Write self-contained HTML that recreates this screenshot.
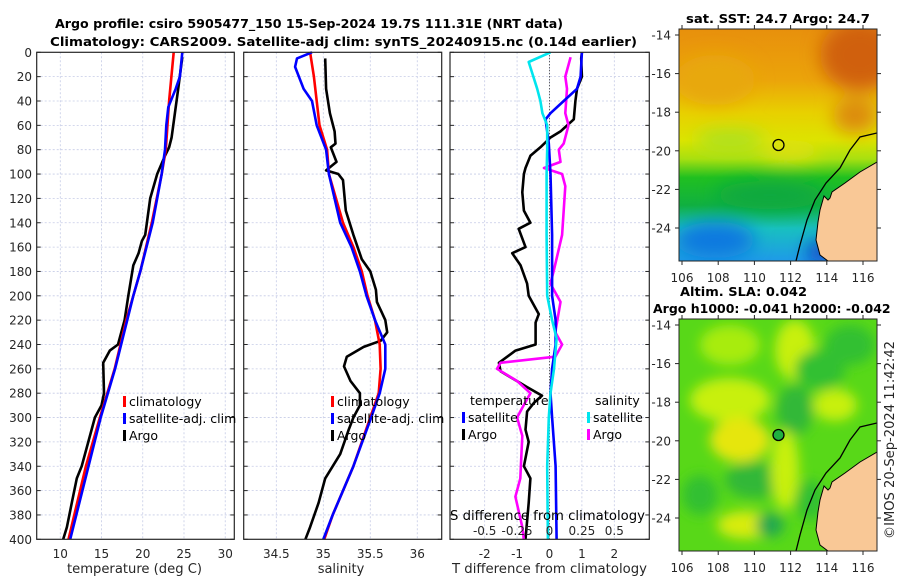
<!DOCTYPE html>
<html><head><meta charset="utf-8"><style>
html,body{margin:0;padding:0;background:#fff;}
svg{display:block;font-family:"DejaVu Sans","Liberation Sans",sans-serif;}
</style></head><body>
<svg id="fig" width="900" height="580" viewBox="0 0 900 580" xmlns="http://www.w3.org/2000/svg">
<defs>
<filter id="bl" x="-50%" y="-50%" width="200%" height="200%"><feGaussianBlur stdDeviation="9"/></filter>
<filter id="bl2" x="-50%" y="-50%" width="200%" height="200%"><feGaussianBlur stdDeviation="6"/></filter>
<clipPath id="m1c"><rect x="679" y="29" width="198" height="232"/></clipPath>
<clipPath id="m2c"><rect x="679" y="319" width="198" height="232"/></clipPath>
<linearGradient id="sstg" x1="0" y1="0" x2="0" y2="1">
<stop offset="0" stop-color="#e8900c"/><stop offset="0.22" stop-color="#eba40a"/><stop offset="0.36" stop-color="#e8d000"/><stop offset="0.48" stop-color="#dce400"/><stop offset="0.56" stop-color="#a8e010"/><stop offset="0.64" stop-color="#20c020"/><stop offset="0.76" stop-color="#10b040"/><stop offset="0.86" stop-color="#18c0c0"/><stop offset="1" stop-color="#1e9ae8"/>
</linearGradient>
</defs>
<g id="titles">
<text x="55" y="28" font-size="12.5" font-weight="bold" textLength="508" lengthAdjust="spacingAndGlyphs">Argo profile: csiro 5905477_150 15-Sep-2024 19.7S 111.31E (NRT data)</text>
<text x="50" y="46" font-size="12.5" font-weight="bold" textLength="587" lengthAdjust="spacingAndGlyphs">Climatology: CARS2009. Satellite-adj clim: synTS_20240915.nc (0.14d earlier)</text>
<text x="686" y="23" font-size="12.5" font-weight="bold" textLength="184" lengthAdjust="spacingAndGlyphs">sat. SST: 24.7 Argo: 24.7</text>
<text x="680" y="296" font-size="12.5" font-weight="bold" textLength="127" lengthAdjust="spacingAndGlyphs">Altim. SLA: 0.042</text>
<text x="653" y="313" font-size="12.5" font-weight="bold">Argo h1000: -0.041 h2000: -0.042</text>
<text transform="translate(894,539) rotate(-90)" font-size="13" fill="#262626" textLength="198" lengthAdjust="spacingAndGlyphs">©IMOS 20-Sep-2024 11:42:42</text>
</g>
<g id="panels"></g>
<g id="maps">
<g clip-path="url(#m1c)">
<rect x="679" y="29" width="198" height="232" fill="url(#sstg)"/>
<g filter="url(#bl)">
<ellipse cx="860" cy="55" rx="40" ry="35" fill="#d0600a"/>
<ellipse cx="855" cy="115" rx="22" ry="18" fill="#dc8a10"/>
<ellipse cx="715" cy="80" rx="40" ry="25" fill="#e8a810"/>
<ellipse cx="730" cy="140" rx="35" ry="10" fill="#a8e020"/>
<ellipse cx="790" cy="150" rx="30" ry="10" fill="#e0e010"/>
<ellipse cx="770" cy="195" rx="55" ry="14" fill="#10a840"/>
<ellipse cx="715" cy="240" rx="40" ry="18" fill="#1078e0"/>
<ellipse cx="820" cy="252" rx="12" ry="10" fill="#0a30c0"/>
</g>
<polygon points="877,162 860,172 845,183 832,192 830,198 828,200 824,196 820,210 818,222 816,240 820,255 828,261 877,261" fill="#f9c896" stroke="#000" stroke-width="1"/>
<polyline points="877,133 860,137 850,150 840,168 826,183 815,200 807,220 800,245 796,261" fill="none" stroke="#000" stroke-width="1.3"/>
<circle cx="778.5" cy="145" r="5.5" fill="none" stroke="#000" stroke-width="1.3"/>
</g>
<g clip-path="url(#m2c)">
<rect x="679" y="319" width="198" height="232" fill="#58d818"/>
<g filter="url(#bl2)">
<ellipse cx="730" cy="345" rx="30" ry="20" fill="#a8ec10"/>
<ellipse cx="795" cy="350" rx="20" ry="30" fill="#c8f010"/>
<ellipse cx="850" cy="345" rx="25" ry="20" fill="#30c030"/>
<ellipse cx="820" cy="370" rx="25" ry="20" fill="#30c030"/>
<ellipse cx="730" cy="400" rx="40" ry="22" fill="#c8f010"/>
<ellipse cx="740" cy="440" rx="30" ry="22" fill="#e6e610"/>
<ellipse cx="795" cy="410" rx="18" ry="25" fill="#30b838"/>
<ellipse cx="835" cy="405" rx="22" ry="16" fill="#c8f010"/>
<ellipse cx="755" cy="480" rx="30" ry="18" fill="#30b838"/>
<ellipse cx="785" cy="470" rx="14" ry="40" fill="#c8f010"/>
<ellipse cx="700" cy="495" rx="18" ry="20" fill="#30c030"/>
<ellipse cx="745" cy="525" rx="28" ry="14" fill="#d8ec10"/>
<ellipse cx="770" cy="525" rx="14" ry="12" fill="#20a850"/>
<ellipse cx="810" cy="500" rx="15" ry="20" fill="#30c030"/>
</g>
<polygon points="877,452 860,462 845,473 832,482 830,488 828,490 824,486 820,500 818,512 816,530 820,545 828,551 877,551" fill="#f9c896" stroke="#000" stroke-width="1"/>
<polyline points="877,423 860,427 850,440 840,458 826,473 815,490 807,510 800,535 796,551" fill="none" stroke="#000" stroke-width="1.3"/>
<circle cx="778.5" cy="435" r="5.5" fill="#20b040" stroke="#000" stroke-width="1.3"/>
</g>
<g id="mapaxes"></g>
</g>
</svg>
<script>
// ---- data ----
const tClimDepth=[0,40,80,100,140,180,200,220,260,300,340,380,400];
const tClimVal=[23.75,23.2,22.8,22.3,21.1,19.7,18.85,18.0,16.6,14.8,13.1,11.7,11.0];
const tSatDepth=[0,20,30,45,60,80,100,140,180,200,260,300,400];
const tSatVal=[24.8,24.5,24.0,23.1,22.85,22.7,22.3,21.2,19.7,18.85,16.65,14.9,11.2];
const tArgoDepth=[4,30,50,70,78,85,100,120,140,150,155,165,175,200,220,240,245,255,280,290,300,320,340,350,370,390,400];
const tArgoVal=[24.8,24.3,23.9,23.5,23.2,22.7,21.75,20.9,20.5,20.3,19.9,19.5,18.85,18.25,17.8,17.0,16.0,15.2,15.3,15.0,14.2,13.4,12.6,12.0,11.4,10.8,10.35];
const sClimDepth=[0,20,40,60,80,100,140,160,180,200,220,240,260,280,300,340,380,400];
const sClimVal=[34.86,34.9,34.93,34.96,35.04,35.06,35.21,35.32,35.41,35.47,35.55,35.6,35.61,35.59,35.5,35.32,35.1,35.01];
const sSatDepth=[0,5,12,30,40,60,80,100,140,160,180,200,220,240,260,280,300,340,380,400];
const sSatVal=[34.88,34.72,34.70,34.79,34.88,34.93,35.03,35.06,35.18,35.30,35.39,35.46,35.55,35.66,35.66,35.6,35.51,35.32,35.1,35.0];
const sArgoDepth=[5,30,50,65,75,78,90,97,100,105,130,150,170,180,195,205,220,230,237,242,250,258,270,280,290,300,310,330,350,370,390,400];
const sArgoVal=[35.02,35.03,35.07,35.12,35.13,35.08,35.14,35.03,35.16,35.21,35.24,35.32,35.41,35.5,35.56,35.57,35.66,35.68,35.61,35.43,35.25,35.22,35.29,35.39,35.39,35.32,35.27,35.18,35.02,34.95,34.86,34.81];
const dTSatDepth=[0,20,30,40,50,55,75,100,150,200,220,240,260,280,300,340,400];
const dTSatVal=[1.0,0.96,0.85,0.44,0.03,-0.12,-0.02,0.03,0.08,0.08,0.19,0.19,0.08,0.03,0.08,0.19,0.22];
const dSSatDepth=[0,8,30,40,50,60,80,100,150,200,220,235,260,280,300,340,400];
const dSSatVal=[0.008,-0.16,-0.095,-0.07,-0.055,-0.018,-0.018,-0.022,-0.022,-0.018,0.02,0.055,0.035,0.008,-0.005,-0.018,-0.012];
const dTArgoDepth=[0,5,20,30,40,55,65,70,78,85,95,100,115,130,140,145,160,165,175,190,200,215,222,240,245,255,262,275,282,288,295,310,320,340,350,370,400];
const dTArgoVal=[1.0,0.98,1.0,0.85,0.8,0.75,0.34,0.03,-0.28,-0.59,-0.74,-0.79,-0.84,-0.79,-0.59,-0.95,-0.74,-1.15,-0.89,-0.69,-0.64,-0.33,-0.43,-0.43,-1.05,-1.56,-1.51,-0.69,-0.23,-0.48,-0.69,-0.74,-0.64,-0.79,-0.59,-0.64,-0.74];
const dSArgoDepth=[4,20,30,50,60,75,80,90,95,100,110,150,180,190,205,230,240,250,255,260,270,280,290,300,315,350,365,390,400];
const dSArgoVal=[0.163,0.122,0.135,0.122,0.147,0.11,0.072,0.085,-0.042,0.097,0.122,0.097,0.032,0.007,0.085,0.045,0.097,0.045,-0.378,-0.405,-0.25,-0.147,-0.2,-0.25,-0.21,-0.225,-0.263,-0.21,-0.198];
const depthTicks=[0,20,40,60,80,100,120,140,160,180,200,220,240,260,280,300,320,340,360,380,400];
const tTicks=[10,15,20,25,30];
const sTicks=[34.5,35,35.5,36];
const dTTicks=[-2,-1,0,1,2];
const dSTicks=[-0.5,-0.25,0,0.25,0.5];
const dSTickLabels=["-0.5","-0.25","0","0.25","0.5"];
const lonTicks=[106,108,110,112,114,116];
const latTicks=[-14,-16,-18,-20,-22,-24];

const NS="http://www.w3.org/2000/svg";
const panels=document.getElementById('panels');
function mk(tag,attrs,parent){const e=document.createElementNS(NS,tag);for(const k in attrs)e.setAttribute(k,attrs[k]);(parent||panels).appendChild(e);return e;}
const Y0=52.3,Y1=539.3;
function yD(d){return Y0+(d/400)*(Y1-Y0);}
function lin(d0,d1,r0,r1){return v=>r0+(v-d0)/(d1-d0)*(r1-r0);}
const P1={x0:36.7,x1:234.3,sx:lin(7.14,31.1,36.7,234.3)};
const P2={x0:243.7,x1:441.7,sx:lin(34.153,36.26,243.7,441.7)};
const P3={x0:450,x1:649.3,sx:lin(-3.07,3.08,450,649.3)};
const sxS=v=>P3.sx(v*4);

function frame(P,xt,xl,name){
  const g=mk('g',{});
  
  
  xt.forEach(v=>{mk('line',{x1:P.sx(v),x2:P.sx(v),y1:Y0,y2:Y1,stroke:'#c5cbe6','stroke-width':0.8,'stroke-dasharray':'2,2'},g);});
  depthTicks.forEach(d=>{if(d>0&&d<400)mk('line',{x1:P.x0,x2:P.x1,y1:yD(d),y2:yD(d),stroke:'#c5cbe6','stroke-width':0.8,'stroke-dasharray':'2,2'},g);
    mk('line',{x1:P.x0,x2:P.x0+4,y1:yD(d),y2:yD(d),stroke:'#262626','stroke-width':1},g);
    mk('line',{x1:P.x1,x2:P.x1-4,y1:yD(d),y2:yD(d),stroke:'#262626','stroke-width':1},g);});
  return g;
}
function axisBox(P,g){mk('rect',{x:P.x0,y:Y0,width:P.x1-P.x0,height:Y1-Y0,fill:'none',stroke:'#262626','stroke-width':1.2},g);}
function line(depths,vals,sx,color,name,g,w){
  const pts=depths.map((d,i)=>sx(vals[i]).toFixed(1)+','+yD(d).toFixed(1)).join(' ');
  const e=mk('polyline',{points:pts,fill:'none',stroke:color,'stroke-width':w||2.6,'stroke-linejoin':'round'},g);
  
  
}
function xlabels(P,ticks,labels,y,g,sx){ticks.forEach((v,i)=>{const t=mk('text',{x:(sx||P.sx)(v),y:y,'font-size':12,'text-anchor':'middle',fill:'#262626'},g);t.textContent=labels?labels[i]:String(v);});}
function legend(x,y,items,g,name){
  const lg=mk('g',{},g);
  
  
  items.forEach((it,i)=>{const yy=y+i*17;
    mk('rect',{x:x,y:yy-10,width:3,height:11,fill:it[1]},lg);
    const t=mk('text',{x:x+6,y:yy,'font-size':12.5,fill:'#000'},lg);t.textContent=it[0];});
}
// panel 1
const g1=frame(P1,tTicks,null,'temperature-panel');
depthTicks.forEach(d=>{const t=mk('text',{x:32,y:yD(d)+4.5,'font-size':12,'text-anchor':'end',fill:'#262626'},g1);t.textContent=String(d);});
line(tArgoDepth,tArgoVal,P1.sx,'#000','temp-argo-line',g1);
line(tClimDepth,tClimVal,P1.sx,'#ff0000','temp-climatology-line',g1);
line(tSatDepth,tSatVal,P1.sx,'#0000ff','temp-satellite-line',g1);
axisBox(P1,g1);
xlabels(P1,tTicks,null,558,g1);
let t=mk('text',{x:67,y:573,'font-size':13,fill:'#262626',textLength:135,lengthAdjust:'spacingAndGlyphs'},g1);t.textContent='temperature (deg C)';

legend(123,406,[['climatology','#ff0000'],['satellite-adj. clim','#0000ff'],['Argo','#000']],g1,'temperature-legend');
// panel 2
const g2=frame(P2,sTicks,null,'salinity-panel');
line(sArgoDepth,sArgoVal,P2.sx,'#000','sal-argo-line',g2);
line(sClimDepth,sClimVal,P2.sx,'#ff0000','sal-climatology-line',g2);
line(sSatDepth,sSatVal,P2.sx,'#0000ff','sal-satellite-line',g2);
axisBox(P2,g2);
xlabels(P2,sTicks,["34.5","35","35.5","36"],558,g2);
t=mk('text',{x:341,y:573,'font-size':13,'text-anchor':'middle',fill:'#262626'},g2);t.textContent='salinity';

legend(331,406,[['climatology','#ff0000'],['satellite-adj. clim','#0000ff'],['Argo','#000']],g2,'salinity-legend');
// panel 3
const g3=frame(P3,dTTicks,null,'difference-panel');
mk('line',{x1:P3.sx(0),x2:P3.sx(0),y1:Y0,y2:Y1,stroke:'#333','stroke-width':1,'stroke-dasharray':'1,2'},g3);
line(dTArgoDepth,dTArgoVal,P3.sx,'#000','tdiff-argo-line',g3);
line(dSArgoDepth,dSArgoVal,sxS,'#ff00ff','sdiff-argo-line',g3);
line(dTSatDepth,dTSatVal,P3.sx,'#0000ff','tdiff-satellite-line',g3);
line(dSSatDepth,dSSatVal,sxS,'#00e5ee','sdiff-satellite-line',g3);
axisBox(P3,g3);
xlabels(P3,dTTicks,null,558,g3);
xlabels(P3,dSTicks,dSTickLabels,535,g3,sxS);
t=mk('text',{x:450,y:520,'font-size':13,fill:'#000',textLength:195,lengthAdjust:'spacingAndGlyphs'},g3);t.textContent='S difference from climatology';

t=mk('text',{x:452,y:573,'font-size':13,fill:'#262626',textLength:195,lengthAdjust:'spacingAndGlyphs'},g3);t.textContent='T difference from climatology';

t=mk('text',{x:470,y:405,'font-size':12.5,fill:'#000'},g3);t.textContent='temperature';
t=mk('text',{x:595,y:405,'font-size':12.5,fill:'#000'},g3);t.textContent='salinity';
legend(462,422,[['satellite','#0000ff'],['Argo','#000']],g3,'tdiff-legend');
legend(587,422,[['satellite','#00e5ee'],['Argo','#ff00ff']],g3,'sdiff-legend');
// map axes
const ma=document.getElementById('mapaxes');
[[29,35,282],[319,325,572]].forEach((m,mi)=>{
  const top=m[0],lat14=m[1],ly=m[2];
  const gx=mk('g',{},ma);
  
  
  const xl=v=>682+(v-106)*18.1, yl=v=>lat14+(-14-v)*19.3;
  mk('rect',{x:679,y:top,width:198,height:232,fill:'none',stroke:'#262626','stroke-width':1},gx);
  lonTicks.forEach(v=>{mk('line',{x1:xl(v),x2:xl(v),y1:top,y2:top-4,stroke:'#262626'},gx);mk('line',{x1:xl(v),x2:xl(v),y1:top+232,y2:top+236,stroke:'#262626'},gx);
    const tt=mk('text',{x:xl(v),y:ly,'font-size':12,'text-anchor':'middle',fill:'#262626'},gx);tt.textContent=String(v);});
  latTicks.forEach(v=>{mk('line',{x1:679,x2:675,y1:yl(v),y2:yl(v),stroke:'#262626'},gx);mk('line',{x1:877,x2:881,y1:yl(v),y2:yl(v),stroke:'#262626'},gx);
    const tt=mk('text',{x:671,y:yl(v)+4.5,'font-size':12,'text-anchor':'end',fill:'#262626'},gx);tt.textContent=String(v);});
});
</script>
</body></html>
